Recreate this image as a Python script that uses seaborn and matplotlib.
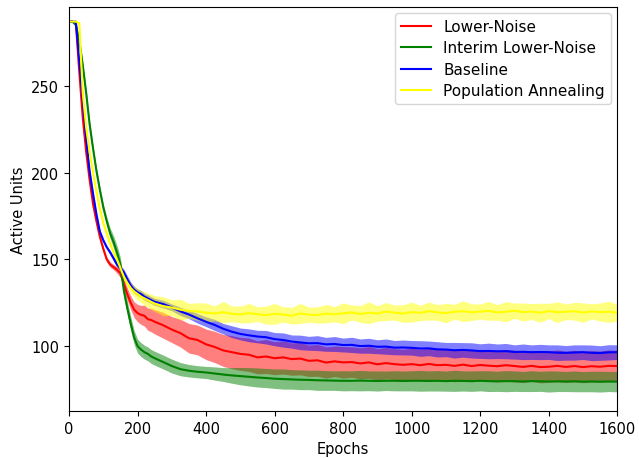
import matplotlib
matplotlib.use("Agg")
import matplotlib.pyplot as plt
import seaborn as sns
import numpy as np
import pandas as pd

epochs = list(range(0, 250, 10)) + list(range(250, 1601, 25))

series_names = ["Lower-Noise", "Interim Lower-Noise", "Baseline", "Population Annealing"]
series_colors = ["red", "green", "blue", "yellow"]

lower_noise_mean = [287, 287, 286, 258, 232, 212, 196, 182, 172, 163, 156, 150, 147, 145.5, 144, 142, 136, 130, 125, 121, 119, 118, 117.5, 115.5, 115,
                    114, 112, 109.5, 107.5, 104.5, 103.5, 101, 99.5, 97.5, 96.5,
                    95.5, 95, 93.5, 94, 93, 93.5, 92.5, 92.8, 91.5, 91.8,
                    90.5, 91.2, 90.6, 90.8, 90, 90.6, 89.5, 90.2, 89.6, 89.2,
                    89.6, 89, 89.7, 89, 89.2, 88.6, 89.3, 88.5, 89.1, 88.7,
                    88.4, 89, 88.5, 88, 88.6, 87.9, 88.1, 88.6, 88, 88.5,
                    87.9, 88.4, 88.1, 88.6, 88.5]
lower_noise_sd = [0.5, 0.5, 1, 1.5, 1.5, 1.5, 1.5, 1.5, 1.5, 1.5, 1.5, 1.5, 1.5, 1.5, 2, 2.5, 3, 3.5, 4, 4.5, 5, 5.5, 6, 6.4, 6.8,
                  7, 7.5, 7.5, 8, 8.5, 8.6, 8.8, 9, 9.2, 9.5,
                  9.5, 9.6, 9.5, 9.8, 9.5, 9.6, 9.3, 9.4, 9, 9.2,
                  9, 8.8, 9.1, 8.8, 9, 9.2, 9, 9.1, 8.9, 9,
                  9.2, 9, 9.1, 8.9, 9, 9.2, 9, 9.1, 9, 8.9,
                  9.1, 9, 9.2, 9, 8.9, 9.1, 9, 9.2, 9, 9.1,
                  9, 9.1, 9, 9.2, 9]

interim_mean = [287, 287, 285, 276, 262, 246, 228, 214, 201, 190, 180, 172, 165, 160, 154, 147, 132, 122, 113, 105, 100, 98, 96.5, 95.5, 94,
                93, 90.8, 88.5, 86.7, 85.8, 85.2, 84.8, 84.2, 83.6, 83.1,
                82.7, 82.3, 81.9, 81.6, 81.2, 81, 80.8, 80.6, 80.5, 80.3,
                80.2, 80.1, 80, 80, 80.1, 80, 79.9, 80, 80, 79.9,
                80, 80, 79.9, 80, 79.8, 80, 79.9, 79.8, 80, 79.8,
                79.7, 79.8, 79.8, 79.6, 79.8, 79.7, 79.6, 79.7, 79.6, 79.7,
                79.5, 79.6, 79.5, 79.6, 79.5]
interim_sd = [0.5, 0.5, 1, 1.5, 2, 2, 2, 2, 2, 2, 2, 2.5, 3, 3.5, 4, 4, 4, 4, 4, 4, 4, 4, 4, 4, 4,
              4, 4, 4, 3.8, 3.6, 3.5, 3.5, 3.8, 4, 4.5,
              5, 5.3, 5.5, 5.5, 5.6, 5.8, 5.6, 5.7, 5.6, 5.8,
              5.7, 5.6, 5.8, 5.7, 5.9, 5.7, 5.8, 5.6, 5.8, 5.7,
              5.8, 6, 5.8, 5.9, 5.8, 6.1, 5.8, 5.9, 5.8, 6,
              5.8, 6.1, 5.9, 5.8, 6, 5.8, 6.1, 5.9, 5.8, 6,
              5.8, 5.9, 6, 5.8, 5.9]

baseline_mean = [287, 287, 287, 264, 242, 220, 201, 188, 176, 166, 161, 157, 154, 150.5, 147, 145, 142.5, 138.5, 135, 132.5, 131, 130, 128.5, 127.5, 126.5,
                 125.5, 124.2, 122.3, 120, 118.2, 116, 114, 112.2, 110, 108.3,
                 107, 106.2, 105.5, 105.1, 104, 103.5, 102.6, 102.1, 101.6, 101.7,
                 101, 101.2, 100.6, 100.7, 100, 100.2, 99.6, 99.7, 99.1, 99.2,
                 99, 98.6, 98.7, 98.1, 98, 97.6, 97.8, 97.5, 97.1, 97.2,
                 97, 97.1, 96.6, 96.7, 96.5, 96.6, 96.5, 96.2, 96.1, 96.3,
                 96.5, 96.1, 96, 96.4, 96.5]
baseline_sd = [0.5, 0.5, 0.5, 1, 1, 1, 1, 1, 1, 1, 1, 1, 1.2, 1.4, 1.5, 1.6, 1.8, 2, 2, 2, 2, 2, 2, 2, 2,
               2, 2.2, 2, 2.4, 2.4, 2.8, 2.8, 3.2, 3, 3.4,
               3.4, 3.7, 3.6, 3.9, 3.8, 4.1, 3.8, 4.2, 4, 4.3,
               4, 4.3, 4, 4.4, 4.1, 4.3, 4, 4.4, 4.1, 4.3,
               4.2, 4.5, 4.2, 4.4, 4.1, 4.5, 4.2, 4.4, 4.2, 4.5,
               4.2, 4.4, 4.1, 4.5, 4.2, 4.4, 4.2, 4.5, 4.2, 4.4,
               4.2, 4.5, 4.2, 4.4, 4.2]

annealing_mean = [287, 287, 287, 286, 246, 226, 212, 200, 189, 179, 171, 165, 159, 154, 150, 145, 140, 136.5, 133.5, 131.5, 130, 128.5, 127.5, 126.5, 125.5,
                  124.5, 123, 122.2, 121, 120.3, 120, 119.2, 118.8, 119.5, 118.6,
                  118.2, 119, 118.4, 117.8, 118.6, 118.2, 117.5, 118.8, 118.1, 117.9,
                  118.7, 118.3, 118.9, 119.4, 118.5, 119.2, 118.8, 119.9, 119.3, 118.7,
                  119.6, 119.1, 120.2, 119.4, 119, 119.8, 120.1, 119.5, 119.9, 120.3,
                  119.4, 119.8, 120.4, 119.6, 119.9, 119.2, 120.2, 119.5, 119.8, 120.1,
                  119.3, 120, 119.6, 119.8, 119.2]
annealing_sd = [0.5, 0.5, 0.5, 0.5, 1, 1, 1, 1, 1, 1, 1, 1, 1, 1, 1.2, 1.5, 2, 2.5, 3, 3, 3.5, 3.5, 4, 4, 4.5,
                4.5, 5.5, 4.5, 6, 4.3, 5, 5.6, 4.3, 6.2, 4.5,
                4.8, 5.6, 4.2, 5.2, 6, 4.4, 4.8, 5.8, 4.3, 4.7,
                5.3, 4.4, 6, 4.3, 4.8, 6.3, 4.4, 5.2, 4.3, 5.1,
                5.7, 4.4, 5.2, 4.5, 5.6, 4.3, 6, 4.8, 4.4, 5.4,
                4.5, 5.8, 4.4, 5.2, 4.6, 5.5, 4.4, 6, 4.5, 5.1,
                5.6, 4.4, 5.2, 6.1, 4.8]

means = [lower_noise_mean, interim_mean, baseline_mean, annealing_mean]
sds = [lower_noise_sd, interim_sd, baseline_sd, annealing_sd]

fig = plt.figure(figsize=(6.39, 4.6), dpi=100)
ax = fig.add_axes([0.108, 0.104, 0.858, 0.879])

ep = np.array(epochs, dtype=float)
for name, color, m, s in zip(series_names, series_colors, means, sds):
    m = np.array(m, dtype=float)
    s = np.array(s, dtype=float)
    df = pd.DataFrame({"Epochs": ep, "Active Units": m})
    sns.lineplot(data=df, x="Epochs", y="Active Units", color=color, linewidth=1.5,
                 label=name, ax=ax)
    ax.fill_between(ep, m - s, m + s, color=color, alpha=0.5, linewidth=0)

ax.set_xlim(0, 1600)
ax.set_ylim(62.5, 295.5)
ax.set_xticks(range(0, 1601, 200))
ax.set_yticks([100, 150, 200, 250])
ax.tick_params(labelsize=10.5)
ax.set_xlabel("Epochs", fontsize=10.5)
ax.set_ylabel("Active Units", fontsize=10.5)
ax.legend(loc="upper right", fontsize=11, labelspacing=0.42, borderaxespad=0.4)

fig.savefig("out.png", dpi=100)
